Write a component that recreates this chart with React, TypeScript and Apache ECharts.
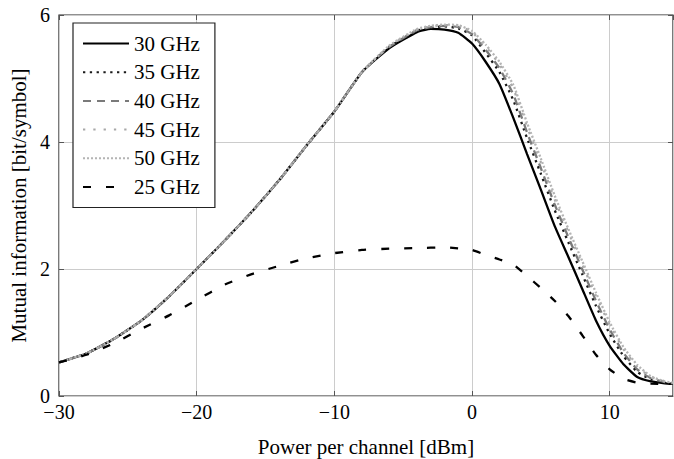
import React, { useEffect, useRef } from "react";
import * as echarts from "echarts";

const powerDbm = [-30, -28, -26, -24, -22, -20, -18, -16, -14, -12, -10, -8, -6, -4, -3, -2, -1, 0, 1, 2, 3, 4, 5, 6, 7, 8, 9, 10, 11, 12, 13, 14, 14.6];

const mi30 = [0.53, 0.67, 0.9, 1.19, 1.57, 2.0, 2.44, 2.9, 3.4, 3.95, 4.48, 5.1, 5.48, 5.73, 5.78, 5.77, 5.72, 5.55, 5.26, 4.91, 4.38, 3.81, 3.25, 2.68, 2.19, 1.69, 1.19, 0.79, 0.5, 0.3, 0.23, 0.2, 0.19];
const mi35 = [0.53, 0.67, 0.9, 1.19, 1.57, 2.0, 2.44, 2.9, 3.4, 3.95, 4.48, 5.1, 5.5, 5.75, 5.8, 5.82, 5.79, 5.68, 5.4, 5.1, 4.66, 4.06, 3.5, 2.93, 2.42, 1.92, 1.42, 0.98, 0.63, 0.38, 0.26, 0.21, 0.2];
const mi40 = [0.53, 0.67, 0.9, 1.19, 1.57, 2.0, 2.44, 2.9, 3.4, 3.95, 4.48, 5.1, 5.5, 5.76, 5.81, 5.83, 5.81, 5.7, 5.45, 5.16, 4.75, 4.15, 3.59, 3.02, 2.5, 2.0, 1.5, 1.05, 0.68, 0.42, 0.28, 0.22, 0.2];
const mi45 = [0.53, 0.67, 0.9, 1.19, 1.57, 2.0, 2.44, 2.9, 3.4, 3.95, 4.48, 5.1, 5.51, 5.77, 5.82, 5.84, 5.83, 5.73, 5.5, 5.22, 4.84, 4.24, 3.68, 3.1, 2.58, 2.08, 1.58, 1.12, 0.74, 0.46, 0.3, 0.23, 0.21];
const mi50 = [0.53, 0.67, 0.9, 1.19, 1.57, 2.0, 2.44, 2.9, 3.4, 3.95, 4.48, 5.1, 5.52, 5.78, 5.83, 5.85, 5.84, 5.75, 5.53, 5.26, 4.9, 4.3, 3.74, 3.16, 2.63, 2.13, 1.63, 1.16, 0.77, 0.49, 0.31, 0.23, 0.21];

const power25 = [-30, -28, -26, -24, -22, -20, -18, -16, -14, -12, -10, -8, -6, -4, -2, 0, 1, 2, 3, 4, 5, 6, 7, 8, 9, 10, 11, 12, 13, 14, 14.6];
const mi25 = [0.53, 0.65, 0.83, 1.06, 1.27, 1.51, 1.75, 1.92, 2.05, 2.17, 2.25, 2.3, 2.32, 2.33, 2.34, 2.3, 2.22, 2.15, 2.07, 1.89, 1.7, 1.5, 1.26, 0.96, 0.65, 0.42, 0.27, 0.21, 0.195, 0.19, 0.19];

const seriesNames = ["30 GHz", "35 GHz", "40 GHz", "45 GHz", "50 GHz", "25 GHz"];
const xTicks = { min: -30, max: 14.6, interval: 10 };
const yTicks = { min: 0, max: 6, interval: 2 };

const FONT = "'Liberation Serif', 'Times New Roman', serif";

const pairs = (xs: number[], ys: number[]) => xs.map((x, i) => [x, ys[i]]);

export default function App() {
  const ref = useRef<HTMLDivElement>(null);
  useEffect(() => {
    if (!ref.current) return;
    const chart = echarts.init(ref.current, null, { renderer: "svg" });
    const fmtX = (v: number) => {
      if (Math.abs(v % 10) > 1e-9) return "";
      return v < 0 ? "\u2212" + Math.abs(v) : String(v);
    };
    const styles = [
      { color: "#000000", width: 2.3, type: "solid" as any },
      { color: "#1a1a1a", width: 2.3, type: [2.3, 4.5] },
      { color: "#7a7a7a", width: 2.3, type: [8, 6] },
      { color: "#a8a8a8", width: 2.3, type: [2.3, 8] },
      { color: "#b4b4b4", width: 2.3, type: [2, 2] },
      { color: "#000000", width: 2.3, type: [8, 15] },
    ];
    const datasets = [
      pairs(powerDbm, mi30),
      pairs(powerDbm, mi35),
      pairs(powerDbm, mi40),
      pairs(powerDbm, mi45),
      pairs(powerDbm, mi50),
      pairs(power25, mi25),
    ];
    const tickStyle = { show: true, inside: true, length: 5, lineStyle: { color: "#555", width: 1 } };
    chart.setOption({
      animation: false,
      backgroundColor: "#ffffff",
      textStyle: { fontFamily: FONT, color: "#000" },
      grid: {
        left: 59,
        right: 1,
        top: 15,
        bottom: 63,
        outerBoundsMode: "none",
        containLabel: false,
        show: true,
        borderColor: "#222",
        borderWidth: 1.2,
        backgroundColor: "transparent",
      },
      legend: {
        orient: "vertical",
        left: 73,
        top: 23,
        padding: [10, 15, 10, 9],
        itemWidth: 46,
        itemHeight: 14,
        itemGap: 7.7,
        borderColor: "#222",
        borderWidth: 1.2,
        backgroundColor: "#ffffff",
        itemStyle: { opacity: 0, borderWidth: 0 },
        data: seriesNames,
        textStyle: { fontFamily: FONT, fontSize: 21, lineHeight: 21, color: "#000" },
      },
      xAxis: [
        {
          type: "value",
          min: xTicks.min,
          max: xTicks.max,
          interval: xTicks.interval,
          position: "bottom",
          name: "Power per channel [dBm]",
          nameLocation: "middle",
          nameGap: 40,
          nameTextStyle: { fontFamily: FONT, fontSize: 21, color: "#000" },
          axisLine: { show: false, onZero: false },
          axisTick: tickStyle,
          axisLabel: { formatter: fmtX, fontFamily: FONT, fontSize: 20, lineHeight: 15, color: "#000", margin: 8, showMaxLabel: false },
          splitLine: { show: true, lineStyle: { color: "#cccccc", width: 1 } },
        },
        {
          type: "value",
          min: xTicks.min,
          max: xTicks.max,
          interval: xTicks.interval,
          position: "top",
          axisLine: { show: false, onZero: false },
          axisTick: tickStyle,
          axisLabel: { show: false },
          splitLine: { show: false },
        },
      ],
      yAxis: [
        {
          type: "value",
          min: yTicks.min,
          max: yTicks.max,
          interval: yTicks.interval,
          position: "left",
          name: "Mutual information [bit/symbol]",
          nameLocation: "middle",
          nameGap: 30,
          nameTextStyle: { fontFamily: FONT, fontSize: 21, color: "#000" },
          axisLine: { show: false, onZero: false },
          axisTick: tickStyle,
          axisLabel: { fontFamily: FONT, fontSize: 20, lineHeight: 14, color: "#000", margin: 9 },
          splitLine: { show: true, lineStyle: { color: "#cccccc", width: 1 } },
        },
        {
          type: "value",
          min: yTicks.min,
          max: yTicks.max,
          interval: yTicks.interval,
          position: "right",
          axisLine: { show: false, onZero: false },
          axisTick: tickStyle,
          axisLabel: { show: false },
          splitLine: { show: false },
        },
      ],
      series: seriesNames.map((name, i) => ({
        name,
        type: "line",
        xAxisIndex: 0,
        yAxisIndex: 0,
        data: datasets[i],
        showSymbol: false,
        symbol: "none",
        smooth: 0.15,
        color: styles[i].color,
        lineStyle: { color: styles[i].color, width: styles[i].width, type: styles[i].type, cap: "butt" },
        emphasis: { disabled: true },
        z: 2 + i,
      })),
    });
    return () => chart.dispose();
  }, []);
  return (
    <div
      ref={ref}
      style={{ position: "fixed", left: 0, top: 0, width: 674, height: 459, background: "#fff" }}
    />
  );
}
